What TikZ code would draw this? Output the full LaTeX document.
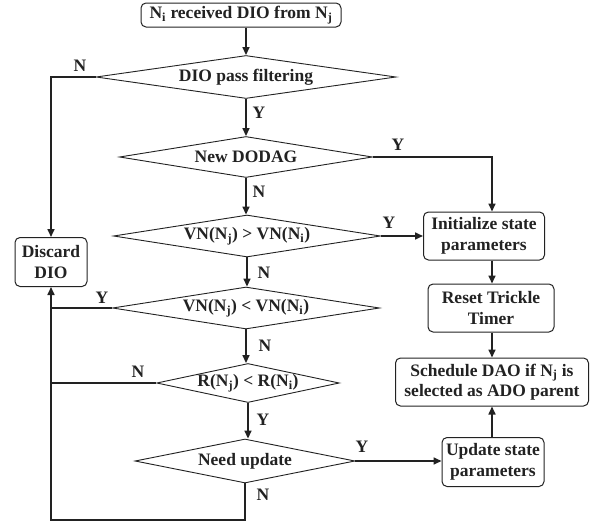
\documentclass[tikz,border=0pt]{standalone}
\usepackage{fontspec}
\setmainfont{Liberation Serif}
\usetikzlibrary{shapes.geometric,arrows.meta}
\definecolor{ink}{HTML}{222222}
\newcommand\mysub[1]{\textsubscript{#1}}
\begin{document}
\begin{tikzpicture}[x=1pt,y=-1pt,
  font=\fontsize{17.5}{20.5}\selectfont\bfseries, text=ink,
  box/.style={draw=ink, line width=1pt, rounded corners=5pt, align=center, inner sep=0pt},
  dia/.style={draw=ink, diamond, line width=0.9pt, inner sep=0pt, align=center},
  arr/.style={draw=ink, line width=1.6pt, -{Triangle[length=8pt,width=7pt]}},
  ln/.style={draw=ink, line width=1.6pt},
  lab/.style={inner sep=0pt}]
\useasboundingbox (0,0) rectangle (600,522);
\fill[white] (0,0) rectangle (600,522);
% main column
\node[box, minimum width=200pt, minimum height=24pt] (start) at (241,15) {N\mysub{i} received DIO from N\mysub{j}};
\node[dia, minimum width=300pt, minimum height=43pt, aspect=7] (d1) at (246,77) {DIO pass filtering};
\node[dia, minimum width=253pt, minimum height=41pt, aspect=6.2] (d2) at (246,157) {New DODAG};
\node[dia, minimum width=267pt, minimum height=42pt, aspect=6.4] (d3) at (247,236) {VN(N\mysub{j}) > VN(N\mysub{i})};
\node[dia, minimum width=267pt, minimum height=42pt, aspect=6.4] (d4) at (246,308) {VN(N\mysub{j}) < VN(N\mysub{i})};
\node[dia, minimum width=182pt, minimum height=39pt, aspect=4.7] (d5) at (248,383) {R(N\mysub{j}) < R(N\mysub{i})};
\node[dia, minimum width=220pt, minimum height=44pt, aspect=5] (d6) at (245,461) {Need update};
% left
\node[box, minimum width=72pt, minimum height=49pt] (dis) at (51,262) {Discard\\DIO};
% right column
\node[box, minimum width=121pt, minimum height=48pt] (init) at (484,236) {Initialize state\\parameters};
\node[box, minimum width=126pt, minimum height=48pt] (reset) at (491,308) {Reset Trickle\\Timer};
\node[box, minimum width=193pt, minimum height=48pt] (sched) at (492,382) {Schedule DAO if N\mysub{j} is\\selected as ADO parent};
\node[box, minimum width=102pt, minimum height=49pt] (upd) at (493,462) {Update state\\parameters};
\coordinate (bot) at (0,520);
% vertical flow
\draw[arr] (start.south -| d1.north) -- (d1.north);
\draw[arr] (d1.south) -- (d1.south |- d2.north);
\draw[arr] (d2.south) -- (d2.south |- d3.north);
\draw[arr] (d3.south) -- (d3.south |- d4.north);
\draw[arr] (d4.south) -- (d4.south |- d5.north);
\draw[arr] (d5.south) -- (d5.south |- d6.north);
% left branches
\draw[arr] (d1.west) -| (dis.north);
\draw[ln] (d4.west) -- (d4.west -| dis.south);
\draw[ln] (d5.west) -- (d5.west -| dis.south);
\draw[arr] (d6.south) -- (d6.south |- bot) -| (dis.south);
% right branches
\draw[arr] (d2.east) -| (init.north -| sched.north);
\draw[arr] (d3.east) -- (d3.east -| init.west);
\draw[arr] (init.south -| sched.north) -- (sched.north |- reset.north);
\draw[arr] (reset.south -| sched.north) -- (sched.north);
\draw[arr] (upd.north -| sched.south) -- (sched.south);
\draw[arr] (d6.east) -- (d6.east -| upd.west);
% labels
\node[lab] (l1) at (80,66) {N};
\node[lab] (l2) at (259,113) {Y};
\node[lab] (l3) at (259,192) {N};
\node[lab] (l4) at (398,145) {Y};
\node[lab] (l5) at (389,223) {Y};
\node[lab] (l6) at (264,273) {N};
\node[lab] (l7) at (102,298) {Y};
\node[lab] (l8) at (265,346) {N};
\node[lab] (l9) at (138,372) {N};
\node[lab] (l10) at (263,420) {Y};
\node[lab] (l11) at (362,447) {Y};
\node[lab] (l12) at (263,495) {N};
\end{tikzpicture}
\end{document}
